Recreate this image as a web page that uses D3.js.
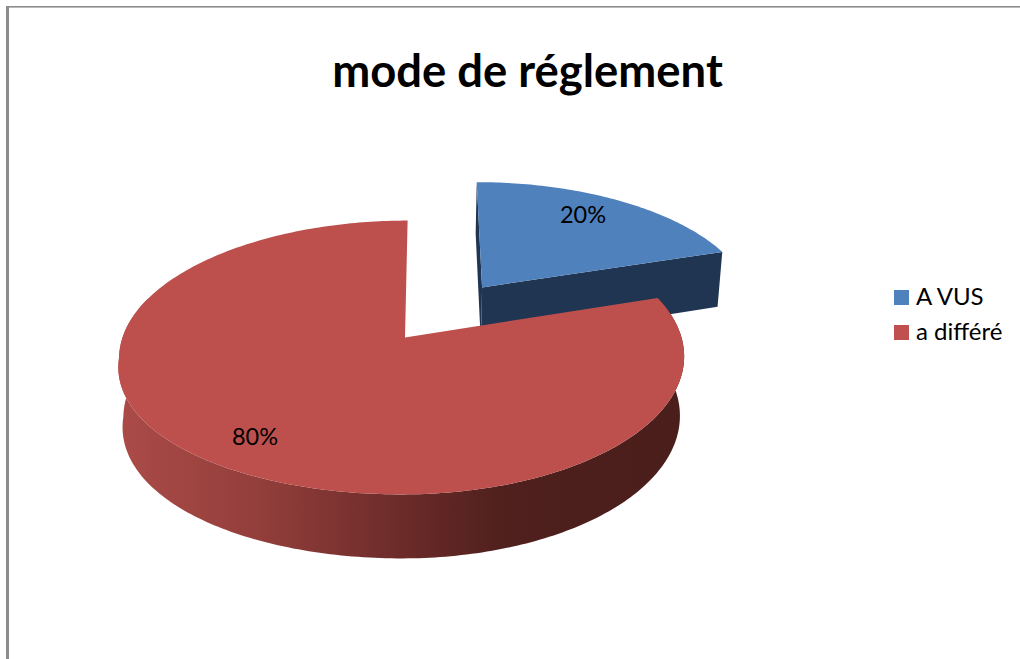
<!DOCTYPE html>
<html><head><meta charset="utf-8">
<script src="https://cdn.jsdelivr.net/npm/d3@7"></script>
<style>html,body{margin:0;padding:0;background:#fff;overflow:hidden}svg{display:block}text{font-family:Lato,"Open Sans",sans-serif;fill:#000}</style>
</head><body><div id="c"></div>
<script>
const categories = ["A VUS", "a différé"];
const values = [20, 80];
const title = "mode de réglement";

const W=1020,H=659;
const topColors = ["#4f81bd", "#bd504c"];
const legendColors = ["#4f81bd", "#c0504d"];
const sideStops = [[0,"#ab4b48"],[0.25,"#923e3b"],[0.5,"#6c2b29"],[0.68,"#4f201d"],[1,"#4a1e1b"]];
const svg=d3.select("#c").append("svg").attr("width",W).attr("height",H);
const defs=svg.append("defs");
const grad=defs.append("linearGradient").attr("id","side").attr("gradientUnits","userSpaceOnUse")
  .attr("x1",119).attr("x2",684).attr("y1",0).attr("y2",0);
sideStops.forEach(s=>grad.append("stop").attr("offset",s[0]).attr("stop-color",s[1]));

// frame
svg.append("rect").attr("x",6).attr("y",6).attr("width",W).attr("height",1.6).attr("fill","#8c8c8c");
svg.append("rect").attr("x",6).attr("y",6).attr("width",3).attr("height",H).attr("fill","#8c8c8c");

// title
svg.append("text").attr("x",527.5).attr("y",87).attr("text-anchor","middle")
  .attr("font-size",45.4).attr("font-weight",700).text(title);

// perspective projection of the tilted pie
const x0=405,y0=337.5,a=134,b=279.5,k=0.146,skew=3;
const shape=[{explode:0.489,nudge:1.5,bow:0,bulge:0},{explode:0,nudge:0,bow:3,bulge:10}];
function proj(X,Y,low){
  const s=1/(1+k*Y);
  let px=x0+(b*X+skew*Y)*s, py=y0-a*Y*s;
  if(low){ px=x0+(px-x0)*0.985; py+=58.7-5.3*Y; }
  return [px,py];
}
const pie=d3.pie().sort(null).value(d=>d)(values);
const line=d3.line();
function sector(d,i){
  const sh=shape[i];
  const mid=(d.startAngle+d.endAngle)/2, e=sh.explode;
  const ox=e*Math.sin(mid), oy=e*Math.cos(mid);
  const n=Math.ceil((d.endAngle-d.startAngle)*60);
  const angs=d3.range(n+1).map(j=>d.startAngle+(d.endAngle-d.startAngle)*j/n);
  const pt=(t,low)=>{
    const lx=Math.sin(t), ly=Math.cos(t);
    const p=proj(ox+lx,oy+ly,low);
    let dx=sh.nudge-sh.bow*lx*lx;
    const q=Math.min(ly+0.146,0);
    if(lx<0&&q<0) dx-=sh.bulge*2*lx*q;
    return [p[0]+dx,p[1]];
  };
  return {angs,pt,apex:low=>proj(ox,oy,low)};
}
const g=svg.append("g");
// exploded blue slice
{
  const s=sector(pie[0],0), A=s.angs;
  const t0=A[0], t1=A[A.length-1];
  g.append("path").attr("fill","#1f3552").attr("d",line([s.pt(t0,false),s.apex(false),s.apex(true),s.pt(t0,true)])+"Z");
  g.append("path").attr("fill","#1f3552").attr("d",line([s.apex(false),s.pt(t1,false),s.pt(t1,true),s.apex(true)])+"Z");
  g.append("path").attr("fill",topColors[0]).attr("d",line([s.apex(false),...A.map(t=>s.pt(t,false))])+"Z");
}
// red slice: side wall then top
{
  const s=sector(pie[1],1), A=s.angs;
  const wall=A.filter(t=>t<=Math.PI*1.6);
  g.append("path").attr("fill","url(#side)")
    .attr("d",line([...wall.map(t=>s.pt(t,false)),...wall.slice().reverse().map(t=>s.pt(t,true))])+"Z");
  g.append("path").attr("fill",topColors[1]).attr("d",line([s.apex(false),...A.map(t=>s.pt(t,false))])+"Z");
}
// data labels
const labelPos=[[583,223],[255,445]];
pie.forEach((d,i)=>{
  svg.append("text").attr("x",labelPos[i][0]).attr("y",labelPos[i][1]).attr("text-anchor","middle")
    .attr("font-size",23.5).text(values[i]+"%");
});
// legend
categories.forEach((c,i)=>{
  const y=290+i*35;
  svg.append("rect").attr("x",894).attr("y",y).attr("width",15).attr("height",15).attr("fill",legendColors[i]);
  svg.append("text").attr("x",916).attr("y",y+15).attr("font-size",24).text(c);
});
</script></body></html>
